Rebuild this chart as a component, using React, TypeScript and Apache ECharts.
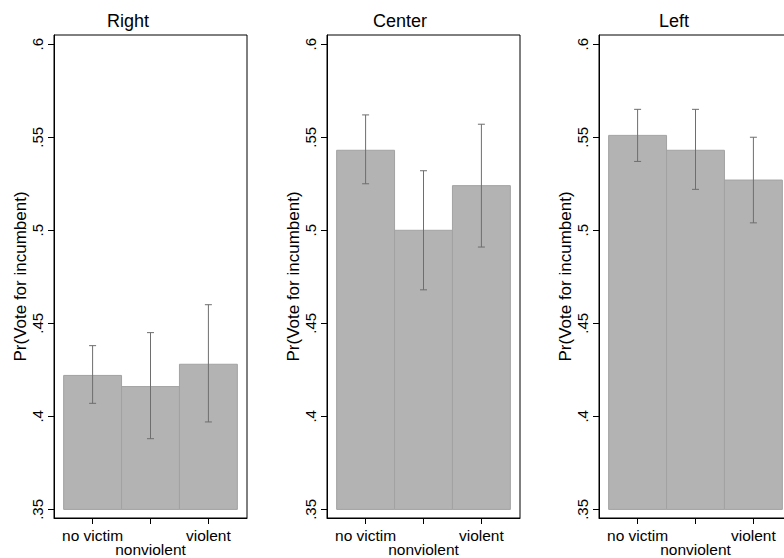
import React, { useEffect, useRef } from 'react';
import * as echarts from 'echarts';

// ---- Data ----
const categories = ['no victim', 'nonviolent', 'violent'];
const xPositions = [1, 2, 3];
const panelTitles = ['Right', 'Center', 'Left'];

const rightMean = [0.422, 0.416, 0.428];
const rightLow = [0.407, 0.388, 0.397];
const rightHigh = [0.438, 0.445, 0.46];

const centerMean = [0.543, 0.5, 0.524];
const centerLow = [0.525, 0.468, 0.491];
const centerHigh = [0.562, 0.532, 0.557];

const leftMean = [0.551, 0.543, 0.527];
const leftLow = [0.537, 0.522, 0.504];
const leftHigh = [0.565, 0.565, 0.55];

const yTicks = [0.35, 0.4, 0.45, 0.5, 0.55, 0.6];
const yAxisTitle = 'Pr(Vote for incumbent)';
const barBase = 0.35;

const panelMeans = [rightMean, centerMean, leftMean];
const panelLows = [rightLow, centerLow, leftLow];
const panelHighs = [rightHigh, centerHigh, leftHigh];

// Stata staggers alternate labels: odd ones on the first row, even ones on a second row
const upperRow = xPositions.filter((_, i) => i % 2 === 0);
const lowerRow = xPositions.filter((_, i) => i % 2 === 1);

// ---- Layout / style ----
const FONT = '"Liberation Sans", Arial, Helvetica, sans-serif';
const gridLefts = [54, 327, 599];
const gridWidth = 193;
const gridTop = 35;
const gridHeight = 483;
const titleCenters = [128, 400, 674];

const fmtY = (v: number) => v.toFixed(2).replace(/0$/, '').replace(/^0/, '');
const fmtX = (v: number) => {
  const idx = xPositions.indexOf(Math.round(v));
  return idx < 0 ? '' : categories[idx];
};

export default function App() {
  const ref = useRef<HTMLDivElement>(null);

  useEffect(() => {
    if (!ref.current) return;
    const chart = echarts.init(ref.current, null, { renderer: 'svg' });

    const grids: any[] = [];
    const xMain: any[] = [];
    const xLower: any[] = [];
    const yAxes: any[] = [];
    const series: any[] = [];
    const titles: any[] = [];

    const labelStyle = {
      fontFamily: FONT,
      fontSize: 15.5,
      lineHeight: 15,
      color: '#000',
      showMinLabel: true,
      showMaxLabel: true,
      hideOverlap: false,
      formatter: fmtX,
    };

    panelTitles.forEach((t, p) => {
      titles.push({
        text: t,
        left: titleCenters[p],
        top: 12,
        padding: 0,
        textAlign: 'center',
        textStyle: { fontFamily: FONT, fontSize: 18, fontWeight: 'normal', color: '#000' },
      });
      grids.push({
        left: gridLefts[p],
        top: gridTop,
        width: gridWidth,
        height: gridHeight,
        show: true,
        borderColor: '#000',
        borderWidth: 1,
        backgroundColor: '#fff',
        containLabel: false,
        outerBoundsMode: 'none',
      });
      xMain.push({
        type: 'value',
        gridIndex: p,
        position: 'bottom',
        min: 1 / 3,
        max: 11 / 3,
        splitLine: { show: false },
        axisLine: { show: true, onZero: false, lineStyle: { color: '#000', width: 1 } },
        axisTick: { show: true, customValues: xPositions, length: 6, lineStyle: { color: '#000' } },
        axisLabel: { ...labelStyle, customValues: upperRow, margin: 9.5 },
      });
      xLower.push({
        type: 'value',
        gridIndex: p,
        position: 'bottom',
        offset: 0,
        min: 1 / 3,
        max: 11 / 3,
        splitLine: { show: false },
        axisLine: { show: false },
        axisTick: { show: false },
        axisLabel: { ...labelStyle, customValues: lowerRow, margin: 24 },
      });
      yAxes.push({
        type: 'value',
        gridIndex: p,
        min: 0.34538,
        max: 0.60495,
        splitLine: { show: false },
        axisLine: { show: true, onZero: false, lineStyle: { color: '#000', width: 1 } },
        axisTick: { show: true, customValues: yTicks, length: 6, lineStyle: { color: '#000' } },
        axisLabel: {
          customValues: yTicks,
          showMinLabel: true,
          showMaxLabel: true,
          hideOverlap: false,
          formatter: (v: number) => fmtY(v),
          rotate: 90,
          fontFamily: FONT,
          fontSize: 15,
          color: '#000',
          margin: 9,
        },
        name: yAxisTitle,
        nameLocation: 'middle',
        nameGap: 25,
        nameTextStyle: { fontFamily: FONT, fontSize: 17, color: '#000' },
      });

      series.push({
        type: 'custom',
        xAxisIndex: p,
        yAxisIndex: p,
        encode: { x: 0, y: 1 },
        data: panelMeans[p].map((m, i) => [xPositions[i], m]),
        renderItem: (params: any, api: any) => {
          const x = api.value(0);
          const v = api.value(1);
          const a = api.coord([x - 0.5, barBase]);
          const b = api.coord([x + 0.5, v]);
          return {
            type: 'rect',
            shape: { x: a[0], y: b[1], width: b[0] - a[0], height: a[1] - b[1] },
            style: { fill: '#b3b3b3', stroke: '#a2a2a2', lineWidth: 1 },
          };
        },
      });
      series.push({
        type: 'custom',
        xAxisIndex: p,
        yAxisIndex: p,
        encode: { x: 0, y: [1, 2] },
        data: panelLows[p].map((lo, i) => [xPositions[i], lo, panelHighs[p][i]]),
        renderItem: (params: any, api: any) => {
          const x = api.value(0);
          const lo = api.coord([x, api.value(1)]);
          const hi = api.coord([x, api.value(2)]);
          const hw = 3.5;
          const st = { stroke: '#6e6e6e', lineWidth: 1 };
          return {
            type: 'group',
            children: [
              { type: 'line', shape: { x1: lo[0], y1: lo[1], x2: hi[0], y2: hi[1] }, style: st },
              { type: 'line', shape: { x1: hi[0] - hw, y1: hi[1], x2: hi[0] + hw, y2: hi[1] }, style: st },
              { type: 'line', shape: { x1: lo[0] - hw, y1: lo[1], x2: lo[0] + hw, y2: lo[1] }, style: st },
            ],
          };
        },
      });
    });

    chart.setOption({
      animation: false,
      backgroundColor: '#fff',
      textStyle: { fontFamily: FONT },
      title: titles,
      grid: grids,
      xAxis: [...xMain, ...xLower],
      yAxis: yAxes,
      series,
    });

    return () => chart.dispose();
  }, []);

  return (
    <div
      ref={ref}
      style={{ position: 'fixed', left: 0, top: 0, width: 784, height: 558, background: '#fff' }}
    />
  );
}
